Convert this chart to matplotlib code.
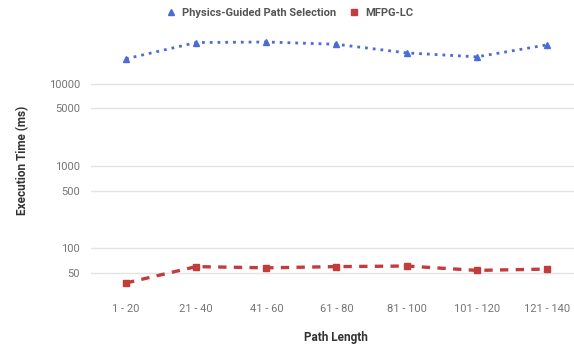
import matplotlib
matplotlib.use('Agg')
import matplotlib.pyplot as plt
from matplotlib.ticker import FixedLocator, FixedFormatter, NullLocator

# data
categories = ['1 - 20', '21 - 40', '41 - 60', '61 - 80', '81 - 100', '101 - 120', '121 - 140']
physics_guided = [20000, 31500, 32000, 30000, 23600, 21100, 29500]
mfpg_lc = [38, 60, 58, 60, 61, 54, 56]
y_ticks = [50, 100, 500, 1000, 5000, 10000]

plt.rcParams['font.family'] = ['Roboto', 'DejaVu Sans']

fig = plt.figure(figsize=(5.74, 3.5), dpi=100)
ax = fig.add_axes([0.1585, 0.1674, 0.8415, 0.7475])

x = list(range(len(categories)))
ax.plot(x, physics_guided, color='#4a6cd4', linestyle=(0, (1, 1.8)), linewidth=2.0,
        marker='^', markersize=5, label='Physics-Guided Path Selection')
ax.plot(x, mfpg_lc, color='#c43b3b', linestyle=(0, (2.5, 2.2)), linewidth=2.4,
        marker='s', markersize=4.5, label='MFPG-LC')

ax.set_yscale('log')
ax.set_ylim(30, 45000)
ax.set_xlim(-0.5, 6.386)
ax.yaxis.set_major_locator(FixedLocator(y_ticks))
ax.yaxis.set_major_formatter(FixedFormatter([str(t) for t in y_ticks]))
ax.yaxis.set_minor_locator(NullLocator())
ax.set_xticks(x)
ax.set_xticklabels(categories)

for s in ax.spines.values():
    s.set_visible(False)
ax.grid(axis='y', color='#e3e3e3', linewidth=1)
ax.set_axisbelow(True)
ax.tick_params(axis='both', length=0, labelsize=8, labelcolor='#757575')
ax.tick_params(axis='y', pad=8)
ax.tick_params(axis='x', pad=9)

ax.set_ylabel('Execution Time (ms)', fontsize=8.5, fontweight='bold', color='#333333', labelpad=14)
ax.set_xlabel('Path Length', fontsize=8.5, fontweight='bold', color='#333333')
ax.xaxis.label.set_va('center')
ax.xaxis.set_label_coords((336 - 91) / 483, -0.178)

leg = ax.legend(loc='center', bbox_to_anchor=(0.412, 1.064), ncol=2, frameon=False,
                prop={'size': 8, 'weight': 'bold'}, handlelength=0.8, handletextpad=0.6,
                columnspacing=1.2)
for h in leg.legend_handles:
    h.set_linestyle('none')
    h.set_markersize(4)
for t in leg.get_texts():
    t.set_color('#555555')

fig.savefig('out.png', dpi=100)
